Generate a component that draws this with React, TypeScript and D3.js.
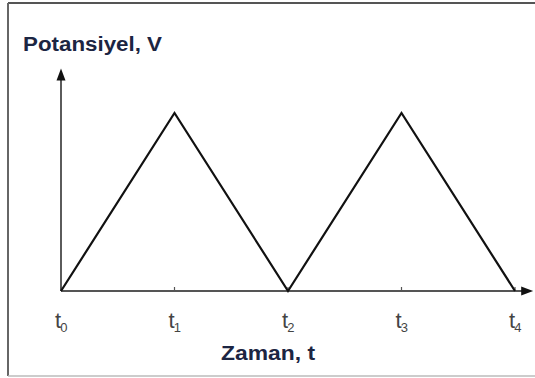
import React from "react";
import * as d3 from "d3";

// triangle wave: potential vs time
const times = [0, 1, 2, 3, 4];
const potential = [0, 1, 0, 1, 0];
const tickSubs = ["0", "1", "2", "3", "4"];
const yLabel = "Potansiyel, V";
const xLabel = "Zaman, t";

const W = 535;
const H = 378;

const App = () => {
  const x = d3.scaleLinear().domain([0, 4]).range([61, 515]);
  const y = d3.scaleLinear().domain([0, 1]).range([291, 113]);

  const pts = times.map((t, i) => ({ t, v: potential[i] }));
  const line = d3
    .line<{ t: number; v: number }>()
    .x((d) => x(d.t))
    .y((d) => y(d.v));

  // axis extents go a little past the data
  const yTop = y(1.25);
  const xEnd = x(4.16);
  const x0 = x(0);
  const y0 = y(0);

  const yArrow = `M${x0},${yTop} L${x0 - 4.5},${yTop + 12} L${x0 + 4.5},${yTop + 12} Z`;
  const xArrow = `M${xEnd},${y0} L${xEnd - 12},${y0 - 4.5} L${xEnd - 12},${y0 + 4.5} Z`;

  const font = "'Liberation Sans', Arial, sans-serif";

  return (
    <div style={{ position: "absolute", left: 0, top: 0 }}>
      <svg width={W} height={H} style={{ display: "block", background: "#fff" }}>
        {/* frame */}
        <line x1={8} y1={3} x2={W} y2={3} stroke="#555" strokeWidth={2} />
        <line x1={8} y1={3} x2={8} y2={376} stroke="#666" strokeWidth={2} />
        <line x1={8} y1={376} x2={W} y2={376} stroke="#bbb" strokeWidth={1.5} />

        {/* axes */}
        <line x1={x0} y1={y0} x2={x0} y2={yTop + 8} stroke="#333" strokeWidth={1.6} />
        <path d={yArrow} fill="#111" />
        <line x1={x0} y1={y0} x2={xEnd - 8} y2={y0} stroke="#555" strokeWidth={2} />
        <path d={xArrow} fill="#111" />

        {/* ticks */}
        {times.map((t) => (
          <line key={t} x1={x(t)} x2={x(t)} y1={y0 - 4} y2={y0} stroke="#555" strokeWidth={1.2} />
        ))}

        {/* series */}
        <path d={line(pts) ?? ""} fill="none" stroke="#111" strokeWidth={2.2} strokeLinejoin="miter" />

        {/* tick labels */}
        {times.map((t, i) => (
          <text key={t} x={x(t) - 6} y={328} fontFamily={font} fontSize={22} fill="#444">
            t
            <tspan fontSize={13} dy={4} dx={-1}>
              {tickSubs[i]}
            </tspan>
          </text>
        ))}

        {/* axis titles */}
        <text
          x={23}
          y={51}
          fontFamily={font}
          fontSize={20}
          fontWeight="bold"
          fill="#1c2542"
          textLength={139}
          lengthAdjust="spacingAndGlyphs"
        >
          {yLabel}
        </text>
        <text
          x={221}
          y={360}
          fontFamily={font}
          fontSize={21}
          fontWeight="bold"
          fill="#1c2542"
          textLength={94}
          lengthAdjust="spacingAndGlyphs"
        >
          {xLabel}
        </text>
      </svg>
    </div>
  );
};

export default App;
